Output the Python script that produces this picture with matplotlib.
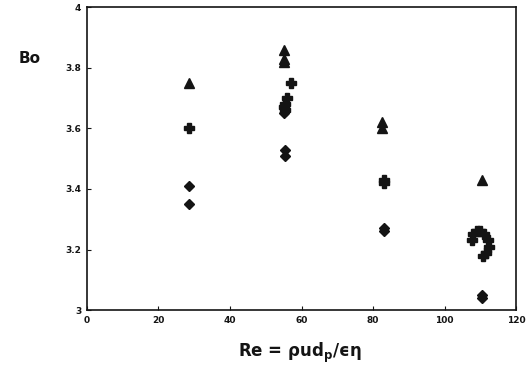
import numpy as np
import matplotlib
matplotlib.use("Agg")
import matplotlib.pyplot as plt

# triangles
tri_re = [28.5, 55.0, 55.0, 55.0, 82.5, 82.5, 110.5]
tri_bo = [3.75, 3.86, 3.83, 3.82, 3.62, 3.60, 3.43]

# pluses
plus_re = [28.5, 57.0, 56.0, 55.5, 55.0, 55.5, 83.0, 83.0,
           107.5, 108.0, 109.0, 110.0, 111.0, 112.0, 112.3, 111.5, 110.8]
plus_bo = [3.60, 3.75, 3.70, 3.68, 3.67, 3.66, 3.43, 3.42,
           3.23, 3.25, 3.26, 3.26, 3.25, 3.23, 3.21, 3.19, 3.18]

# diamonds
dia_re = [28.5, 28.5, 55.5, 55.5, 55.0, 83.0, 83.0, 110.5, 110.5]
dia_bo = [3.41, 3.35, 3.53, 3.51, 3.65, 3.27, 3.26, 3.05, 3.04]

ink = "#141414"

fig = plt.figure(figsize=(5.3, 3.7), dpi=100)
ax = fig.add_axes([0.164, 0.162, 0.81, 0.818])

ax.plot(tri_re, tri_bo, "^", color=ink, markersize=7.5, linestyle="none")
ax.plot(plus_re, plus_bo, "P", color=ink, markersize=7, linestyle="none")
ax.plot(dia_re, dia_bo, "D", color=ink, markersize=5.5, linestyle="none")

ax.set_xlim(0, 120)
ax.set_ylim(3, 4)
ax.set_xticks([0, 20, 40, 60, 80, 100, 120])
ax.set_yticks([3, 3.2, 3.4, 3.6, 3.8, 4])
ax.set_yticklabels(["3", "3.2", "3.4", "3.6", "3.8", "4"])
ax.tick_params(direction="in", length=3, width=0.8, labelsize=6.5, pad=4, colors=ink)
for lab in ax.get_xticklabels() + ax.get_yticklabels():
    lab.set_fontweight("bold")
for sp in ax.spines.values():
    sp.set_linewidth(1.2)
    sp.set_color(ink)

fig.text(0.035, 0.83, "Bo", fontsize=11, fontweight="bold", color=ink)
fig.text(0.565, 0.035, "Re = ρud$_\\mathregular{p}$/ϵη", fontsize=12,
         fontweight="bold", color=ink, ha="center")

fig.savefig("out.png", dpi=100)
